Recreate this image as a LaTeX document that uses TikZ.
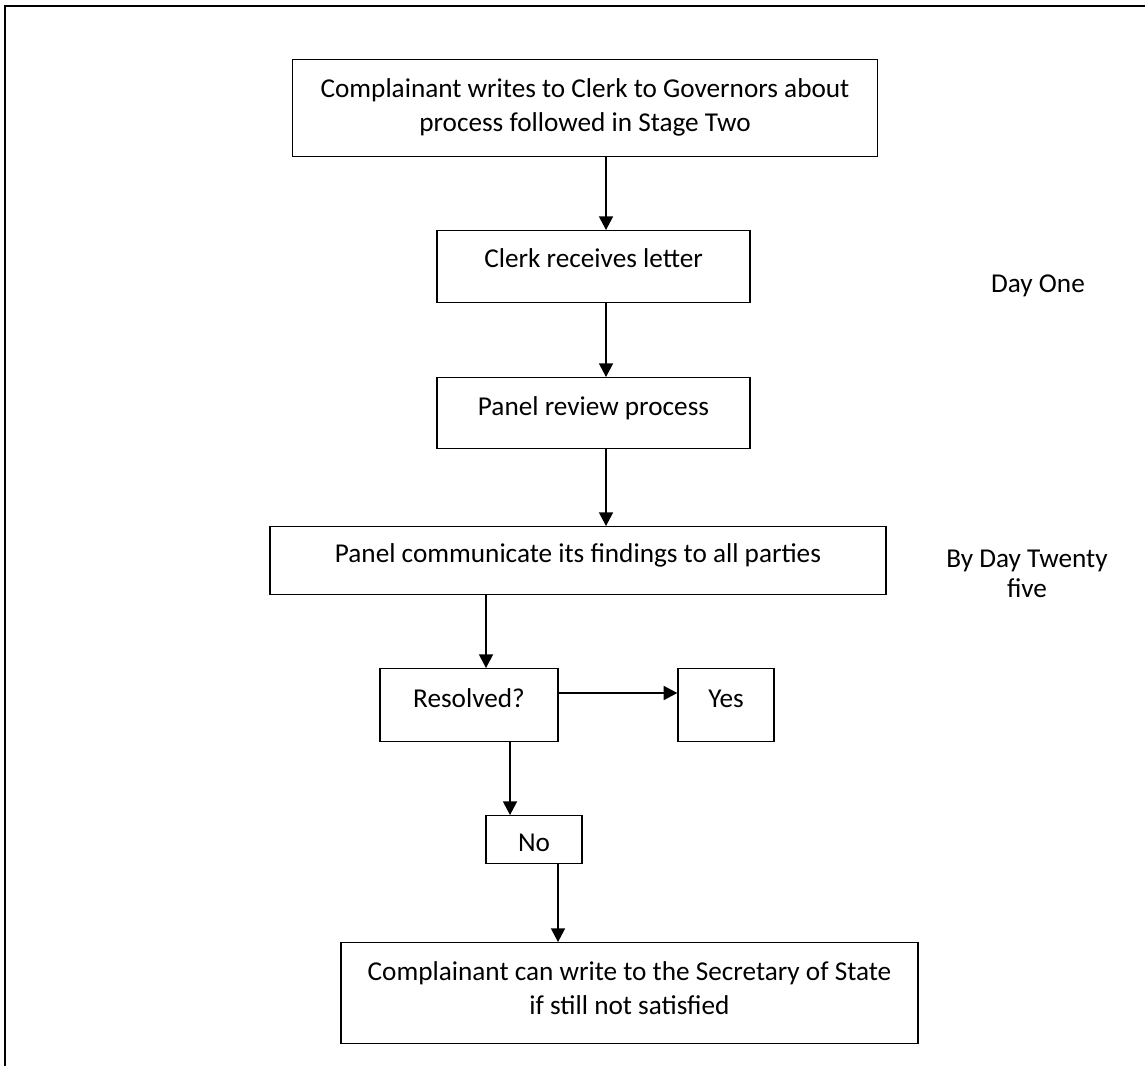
\documentclass[tikz,border=0pt]{standalone}
\usepackage{fontspec}
\setmainfont{Carlito}
\usetikzlibrary{arrows.meta, positioning}
\newdimen\px \px=0.47pt

\begin{document}
\begin{tikzpicture}[x=0.47pt, y=-0.47pt,
                font=\fontsize{12.8pt}{15.8pt}\selectfont,
                block/.style = {
                    rectangle, anchor=north,
                    draw=black, line width=0.65pt,
                    inner sep=0pt, align=center
                },
                note/.style = {
                    anchor=base, align=center, inner sep=0pt,
                    font=\fontsize{12.8pt}{14.1pt}\selectfont
                },
                arrow/.style = {
                    draw, line width=0.65pt,
                    -{Triangle[length=6.4pt, width=6.6pt]}
                }
                ]
                \useasboundingbox (0,0) rectangle (1145,1066);
                \draw[line width=0.95pt] (5,1066) -- (5,6) -- (1145,6);

                \node[block, minimum width=585\px, text height=71.6\px, text depth=25.4\px] (complaint) at (585,59) {Complainant writes to Clerk to Governors about\\process followed in Stage Two};
                \node[block, minimum width=313\px, text height=37\px, text depth=35\px] (clerk) at (593.5,230) {Clerk receives letter};
                \node[block, minimum width=313\px, text height=38\px, text depth=33\px] (review) at (593.5,377) {Panel review process};
                \node[block, minimum width=616\px, text height=36\px, text depth=32\px] (findings) at (578,526) {Panel communicate its findings to all parties};
                \node[block, minimum width=178\px, text height=39\px, text depth=34\px] (resolved) at (469,668) {Resolved?};
                \node[block, minimum width=96\px, text height=39\px, text depth=34\px] (yes) at (726,668) {Yes};
                \node[block, minimum width=96\px, text height=36\px, text depth=12\px] (no) at (534,815) {No};
                \node[block, minimum width=577\px, text height=71.6\px, text depth=29.4\px] (secretary) at (629.5,942) {Complainant can write to the Secretary of State\\if still not satisfied};

                \node[note] (dayone) at (1038,292) {Day One};
                \node[note] (daytwentyfive) at (1027,597) {By Day Twenty\\five};

                \coordinate (mainline) at (606,0);
                \coordinate (findline) at (486,0);
                \coordinate (yesline) at (0,693);
                \coordinate (resline) at (510,0);
                \coordinate (noline) at (558,0);

                \path[arrow] (mainline |- complaint.south) -- (mainline |- clerk.north);
                \path[arrow] (mainline |- clerk.south) -- (mainline |- review.north);
                \path[arrow] (mainline |- review.south) -- (mainline |- findings.north);
                \path[arrow] (findline |- findings.south) -- (findline |- resolved.north);
                \path[arrow] (resolved.east |- yesline) -- (yes.west |- yesline);
                \path[arrow] (resline |- resolved.south) -- (resline |- no.north);
                \path[arrow] (noline |- no.south) -- (noline |- secretary.north);
            \end{tikzpicture}
\end{document}
